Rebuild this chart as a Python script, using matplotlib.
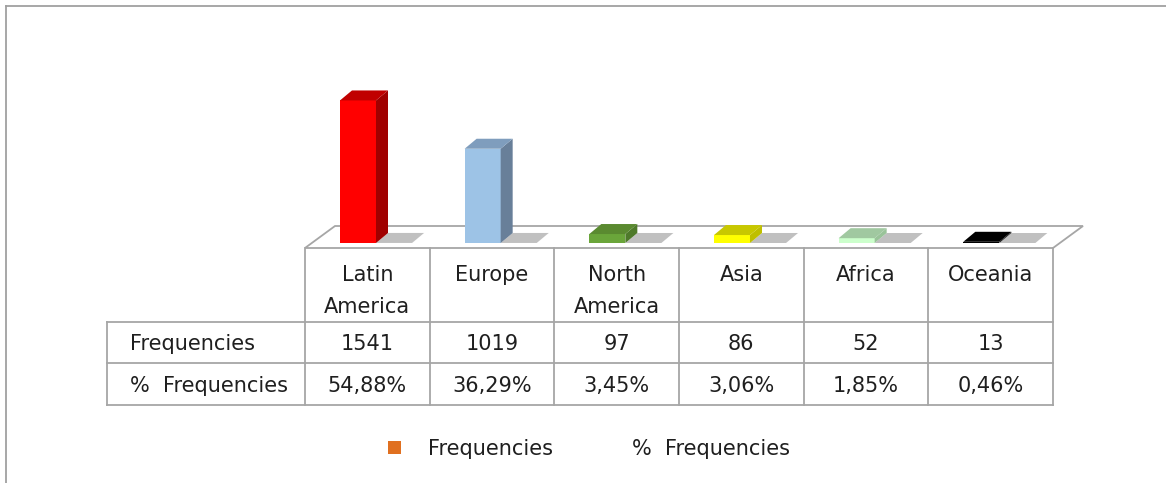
import numpy as np
import matplotlib.pyplot as plt
from matplotlib.patches import Polygon, Rectangle

# data
categories = ["Latin\nAmerica", "Europe", "North\nAmerica", "Asia", "Africa", "Oceania"]
frequencies = [1541, 1019, 97, 86, 52, 13]
pct_frequencies = [0.5488, 0.3629, 0.0345, 0.0306, 0.0185, 0.0046]
series_names = ["Frequencies", "% Frequencies"]

# colours of each column: front, top, side
front_colors = ["#ff0000", "#9dc3e6", "#6aa53a", "#ffff00", "#ccffcc", "#000000"]
top_colors = ["#c00000", "#7f9dbd", "#5a8a30", "#c8c800", "#a0c8a0", "#000000"]
side_colors = ["#a00000", "#687f99", "#4e7a2a", "#bfbf00", "#99c399", "#1a1a1a"]
grey_front, grey_top, grey_side = "#c0c0c0", "#c0c0c0", "#a8a8a8"
legend_color = "#e07020"
line_color = "#a6a6a6"
text_color = "#1f1f1f"

pct_labels = [f"{v * 100:.2f}%".replace(".", ",") for v in pct_frequencies]

W, H = 1166, 483
plt.rcParams["font.family"] = ["DejaVu Sans"]
fig = plt.figure(figsize=(W / 100, H / 100), dpi=100)

# full-figure canvas in pixel units for frame, floor, table, legend
canvas = fig.add_axes([0, 0, 1, 1])
canvas.set_xlim(0, W)
canvas.set_ylim(H, 0)
canvas.axis("off")

# plot area for the columns
x0, x1 = 305, 1053
base = 243
px_per_unit = 0.0925
ymax = 2500
ax = fig.add_axes([x0 / W, (H - base) / H, (x1 - x0) / W, ymax * px_per_unit / H])
ax.set_xlim(-0.5, 5.5)
ax.set_ylim(0, ymax)
ax.axis("off")
ax.patch.set_alpha(0)

dx, dy = 12, 10  # depth of a column, pixels
bar_w = 0.289
pos = np.arange(len(frequencies))


def box(xc, h, front, top, side, z):
    xl, xr = xc - bar_w / 2, xc + bar_w / 2
    ax.bar(xc, h, bar_w, color=front, linewidth=0, zorder=z)
    to_disp = ax.transData.transform
    to_data = ax.transData.inverted().transform

    def back(p):
        return to_data(to_disp(p) + np.array([dx, dy]))

    side_poly = [(xr, 0), (xr, h), back((xr, h)), back((xr, 0))]
    top_poly = [(xl, h), (xr, h), back((xr, h)), back((xl, h))]
    ax.add_patch(Polygon(side_poly, closed=True, facecolor=side, lw=0, zorder=z, clip_on=False))
    ax.add_patch(Polygon(top_poly, closed=True, facecolor=top, lw=0, zorder=z, clip_on=False))


for i, v in enumerate(pct_frequencies):
    box(pos[i] + 0.214, v, grey_front, grey_top, grey_side, 2)
for i, v in enumerate(frequencies):
    box(pos[i] - 0.075, v, front_colors[i], top_colors[i], side_colors[i], 3)

# floor
fdx, fdy = 30, 22
floor_y = 248
canvas.add_patch(Polygon([(x0, floor_y), (x1, floor_y), (x1 + fdx, floor_y - fdy), (x0 + fdx, floor_y - fdy)],
                         closed=True, facecolor="white", edgecolor=line_color, lw=1.3, zorder=1))

# data table
col_edges = np.linspace(x0, x1, len(categories) + 1)
label_x = 107
row_lines = [322, 363, 405]
for x in col_edges:
    canvas.plot([x, x], [floor_y, row_lines[-1]], color=line_color, lw=1.3, zorder=1)
canvas.plot([label_x, label_x], [row_lines[0], row_lines[-1]], color=line_color, lw=1.3, zorder=1)
for y in row_lines:
    canvas.plot([label_x, x1], [y, y], color=line_color, lw=1.3, zorder=1)

fs = 15
centers = (col_edges[:-1] + col_edges[1:]) / 2
for cx, name, f, p in zip(centers, categories, frequencies, pct_labels):
    for k, line in enumerate(name.split("\n")):
        canvas.text(cx, 281 + 32 * k, line, ha="center", va="baseline", fontsize=fs, color=text_color)
    canvas.text(cx, 350, str(f), ha="center", va="baseline", fontsize=fs, color=text_color)
    canvas.text(cx, 392, p, ha="center", va="baseline", fontsize=fs, color=text_color)
canvas.text(130, 350, series_names[0], ha="left", va="baseline", fontsize=fs, color=text_color)
canvas.text(130, 392, series_names[1].replace(" ", "  "), ha="left", va="baseline", fontsize=fs, color=text_color)

# legend
canvas.add_patch(Rectangle((388, 441), 13, 13, facecolor=legend_color, lw=0))
canvas.text(428, 455, series_names[0], ha="left", va="baseline", fontsize=fs, color=text_color)
canvas.text(632, 455, series_names[1].replace(" ", "  "), ha="left", va="baseline", fontsize=fs, color=text_color)

# chart frame
canvas.plot([6, 6], [H, 6], color="#a0a0a0", lw=1.3)
canvas.plot([6, W], [6, 6], color="#a0a0a0", lw=1.3)

fig.savefig("out.png", dpi=100)
